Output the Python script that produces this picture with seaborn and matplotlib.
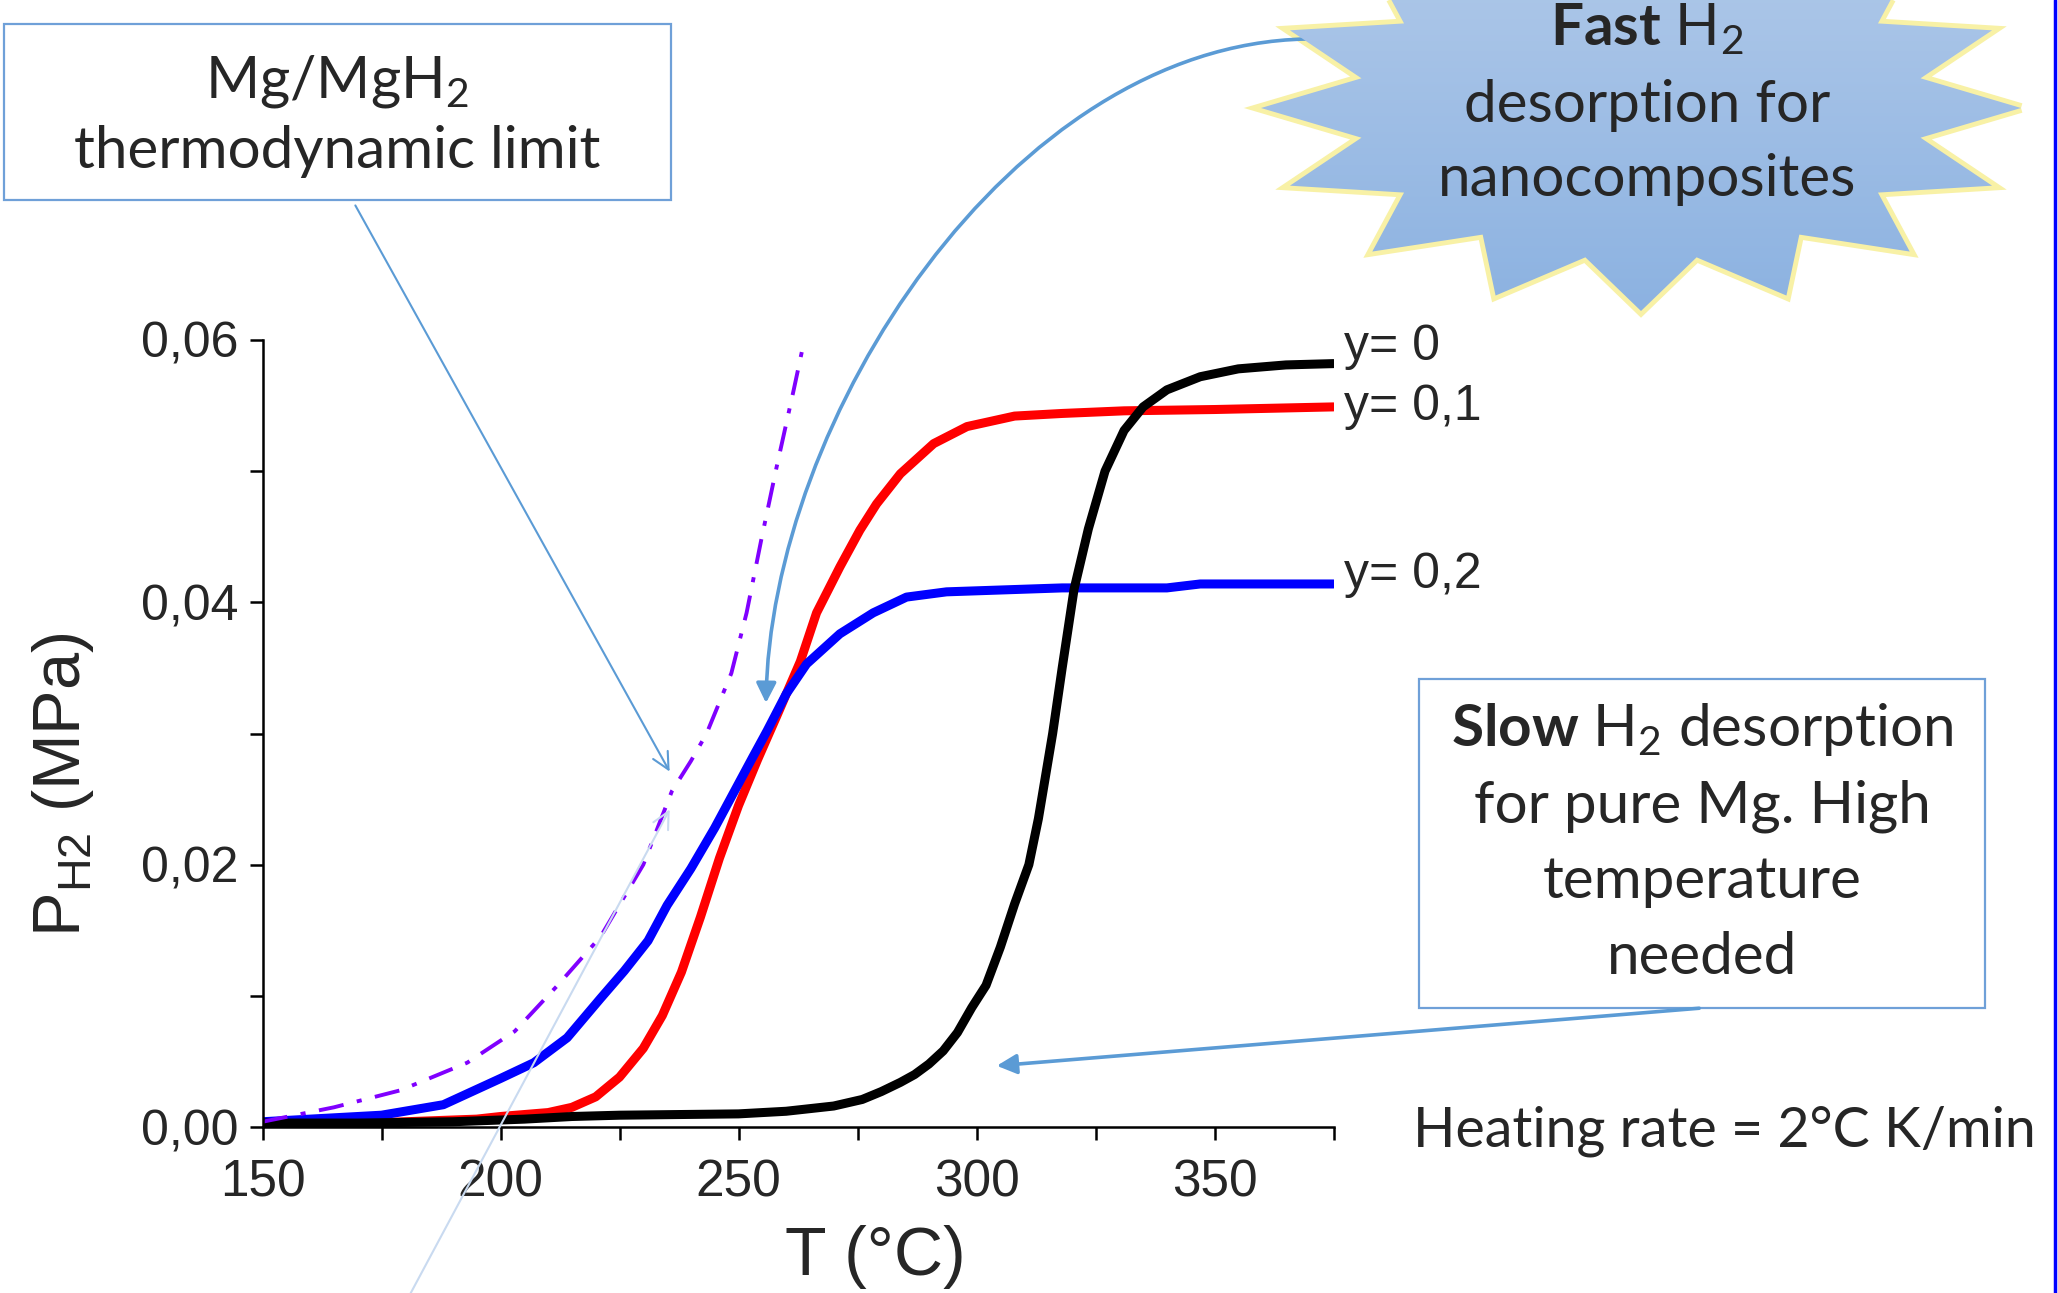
import numpy as np
import pandas as pd
import matplotlib
matplotlib.use("Agg")
import matplotlib.pyplot as plt
import seaborn as sns
from matplotlib.patches import Rectangle, Polygon, FancyArrowPatch
from matplotlib.path import Path
from matplotlib.colors import LinearSegmentedColormap
from matplotlib.ticker import MultipleLocator, FuncFormatter

# --- data (T in degC, P in MPa) ---
temp_y0 = [150, 170, 190, 205, 215, 225, 250, 260, 270, 276, 280, 284, 287, 290, 293,
           296, 299, 302, 305, 308, 311, 313, 316, 318, 320.5, 323.5, 327, 331, 335, 340,
           347, 355, 365, 375]
pres_y0 = [0.0003, 0.0003, 0.0004, 0.0006, 0.0008, 0.0009, 0.0010, 0.0012, 0.0016, 0.0021,
           0.0027, 0.0034, 0.0040, 0.0048, 0.0058, 0.0072, 0.0091, 0.0108, 0.0137, 0.0170,
           0.0200, 0.0235, 0.0300, 0.0350, 0.0410, 0.0456, 0.0500, 0.0531, 0.0549, 0.0562,
           0.0572, 0.0578, 0.0581, 0.0582]

temp_y01 = [150, 165, 180, 195, 200, 210, 215, 220, 225, 230, 234, 238, 242, 246, 250,
            254, 258, 263, 266.4, 271.3, 275.5, 279, 284, 291, 298, 308, 318, 331,
            350, 375]
pres_y01 = [0.0001, 0.0002, 0.0004, 0.0006, 0.0008, 0.0011, 0.0015, 0.0023, 0.0038, 0.0060,
            0.0085, 0.0118, 0.0160, 0.0205, 0.0245, 0.0280, 0.0313, 0.0355, 0.0392, 0.0427,
            0.0455, 0.0475, 0.0498, 0.0521, 0.0534, 0.0542, 0.0544, 0.0546, 0.0547, 0.0549]

temp_y02 = [150, 160, 175, 188, 200, 207, 214, 221, 226, 231, 235, 240, 245, 249, 253,
            256, 260, 264.3, 271.3, 278.3, 285.3, 293.7, 318, 340, 347, 360, 375]
pres_y02 = [0.0004, 0.0006, 0.0009, 0.0017, 0.0037, 0.0049, 0.0068, 0.0098, 0.0119, 0.0142,
            0.0169, 0.0197, 0.0228, 0.0255, 0.0282, 0.0302, 0.0330, 0.0353, 0.0376, 0.0392,
            0.0404, 0.0408, 0.0411, 0.0411, 0.0414, 0.0414, 0.0414]

# Mg/MgH2 thermodynamic limit
temp_eq = [150, 165, 179, 193, 203, 212, 221, 230, 236, 240, 243.3, 248.5, 251.7, 254.8,
           258, 261.6, 263.6]
pres_eq = [0.0004, 0.0015, 0.0028, 0.0049, 0.0073, 0.0108, 0.0145, 0.0200, 0.0256, 0.0279,
           0.0300, 0.0346, 0.0392, 0.0448, 0.0503, 0.0562, 0.0596]

series_labels = ["y= 0", "y= 0,1", "y= 0,2"]
series_colors = ["#000000", "#FF0000", "#0000FF"]
label_y = [0.0595, 0.0549, 0.0421]

W, H = 2058, 1293

sns.set_style("ticks")
plt.rcParams["font.family"] = ["Liberation Sans", "DejaVu Sans"]
plt.rcParams["mathtext.fontset"] = "custom"
plt.rcParams["mathtext.rm"] = "Lato"
plt.rcParams["mathtext.bf"] = "Lato:bold"

fig = plt.figure(figsize=(W / 100, H / 100), dpi=100)
ax = fig.add_axes([262.5 / W, (H - 1127) / H, 1071 / W, 787 / H])

curves = pd.DataFrame({
    "T": temp_y01 + temp_y02 + temp_y0,
    "P": pres_y01 + pres_y02 + pres_y0,
    "sample": ["y= 0,1"] * len(temp_y01) + ["y= 0,2"] * len(temp_y02) + ["y= 0"] * len(temp_y0),
})
sns.lineplot(data=curves, x="T", y="P", hue="sample", estimator=None, sort=False,
             palette=dict(zip(series_labels, series_colors)),
             hue_order=["y= 0,1", "y= 0,2", "y= 0"], lw=6.5, legend=False, ax=ax)
sns.lineplot(x=temp_eq, y=pres_eq, color="#8000FF", lw=2.8, estimator=None, sort=False,
             linestyle=(0, (6.5, 3.5, 1.3, 3.5)), ax=ax)

ax.set_xlim(150, 375)
ax.set_ylim(0, 0.06)
sns.despine(ax=ax)
for s in ["left", "bottom"]:
    ax.spines[s].set_linewidth(1.8)
    ax.spines[s].set_color("black")
ax.set_xticks([150, 200, 250, 300, 350])
ax.xaxis.set_minor_locator(MultipleLocator(25))
ax.set_yticks([0, 0.02, 0.04, 0.06])
ax.yaxis.set_minor_locator(MultipleLocator(0.01))
ax.yaxis.set_major_formatter(FuncFormatter(lambda v, p: f"{v:.2f}".replace(".", ",")))
ax.tick_params(which="both", direction="out", length=9.5, width=1.8, color="black")
ax.tick_params(axis="y", labelsize=36, pad=8)
ax.tick_params(axis="x", labelsize=37, pad=13)

ax.set_xlabel("T (°C)", fontsize=49)
ax.set_ylabel(r"P$_{\mathregular{H2}}$ (MPa)", fontsize=48)
ax.xaxis.label.set_va("center")
ax.yaxis.label.set_va("center")
ax.xaxis.set_label_coords(0.572, -0.165)
ax.yaxis.set_label_coords(-0.186, 0.435)

for lab, yy in zip(series_labels, label_y):
    ax.text(377.2, yy, lab, fontsize=36, va="center", ha="left", clip_on=False)

# --- annotation layer in figure pixels (y down) ---
ov = fig.add_axes([0, 0, 1, 1])
ov.patch.set_alpha(0)
ov.axis("off")

annot_font = dict(family=["Lato", "DejaVu Sans"], fontsize=42)
box_edge = "#6FA0D8"
arrow_blue = "#5B9BD5"

# thermodynamic limit box
ov.add_patch(Rectangle((4, 24), 667, 176, facecolor="white", edgecolor=box_edge, lw=1.6))
ov.text(337, 81, r"Mg/MgH$_\mathregular{2}$", ha="center", va="center", **annot_font)
ov.text(337, 152, "thermodynamic limit", ha="center", va="center", **annot_font)
ov.add_patch(FancyArrowPatch((354, 203), (671, 774), arrowstyle="->", mutation_scale=30,
                             color=arrow_blue, lw=1.5))
ov.add_patch(FancyArrowPatch((407, 1300), (671, 807), arrowstyle="->", mutation_scale=30,
                             color="#C9DAF0", lw=1.5))

# starburst
cx, cy, rx, ry = 1641, 108, 380, 203
k = np.arange(32)
ang = np.deg2rad(k * 11.25)
rad = np.where(k % 2 == 0, 1.0, 0.75)
verts = np.column_stack([cx + rx * rad * np.cos(ang), cy - ry * rad * np.sin(ang)])
glow = Polygon(verts, closed=True, facecolor="none", edgecolor="#F8F1A6", lw=7, zorder=1)
ov.add_patch(glow)
clip = Polygon(verts, closed=True, facecolor="none", edgecolor="none", zorder=2)
ov.add_patch(clip)
sky = LinearSegmentedColormap.from_list("sky", ["#B3CBEA", "#8CB2E1"])
im = ov.imshow(np.linspace(0, 1, 256)[:, None], cmap=sky, aspect="auto",
               extent=[cx - rx, cx + rx, cy + ry, cy - ry], zorder=2)
im.set_clip_path(clip)
ov.text(1647, 29, r"$\mathbf{Fast}$ H$_\mathregular{2}$", ha="center", va="center", zorder=3, **annot_font)
ov.text(1647, 105, "desorption for", ha="center", va="center", zorder=3, **annot_font)
ov.text(1647, 180, "nanocomposites", ha="center", va="center", zorder=3, **annot_font)

bez = Path([(1306, 39), (1010, 45), (770, 420), (766, 703)],
           [Path.MOVETO, Path.CURVE4, Path.CURVE4, Path.CURVE4])
ov.add_patch(FancyArrowPatch(path=bez, arrowstyle="-|>", mutation_scale=30,
                             color=arrow_blue, lw=2.6))

# slow desorption box
ov.add_patch(Rectangle((1419, 679), 566, 329, facecolor="white", edgecolor=box_edge, lw=1.6))
ov.text(1702, 730, r"$\mathbf{Slow}$ H$_\mathregular{2}$ desorption", ha="center", va="center", **annot_font)
ov.text(1702, 806, "for pure Mg. High", ha="center", va="center", **annot_font)
ov.text(1702, 882, "temperature", ha="center", va="center", **annot_font)
ov.text(1702, 958, "needed", ha="center", va="center", **annot_font)
ov.add_patch(FancyArrowPatch((1702, 1008), (994, 1066), arrowstyle="-|>", mutation_scale=30,
                             color=arrow_blue, lw=2.6))

ov.text(1413, 1131, "Heating rate = 2°C K/min", ha="left", va="center",
        family=["Lato", "DejaVu Sans"], fontsize=40)

# slide border on the right
ov.plot([2055, 2055], [0, H], color="#0000FF", lw=2.5)

ov.set_xlim(0, W)
ov.set_ylim(H, 0)

fig.savefig("out.png", dpi=100)
